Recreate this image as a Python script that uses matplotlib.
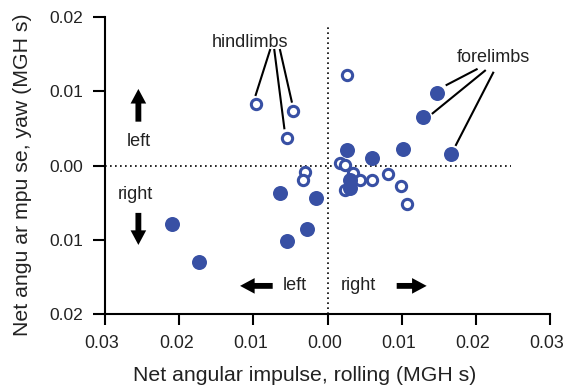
import matplotlib
matplotlib.use("Agg")
import matplotlib.pyplot as plt
import matplotlib.transforms as mtransforms

plt.rcParams['font.family'] = ['Liberation Sans', 'DejaVu Sans']

BLUE = '#3850a4'

# Filled markers (forelimbs / others)
filled_x = [-0.0210, -0.0173, -0.0064, -0.0055, -0.0028, -0.0015, 0.0026, 0.0031, 0.0031, 0.0060, 0.0102, 0.0148, 0.0129, 0.0166]
filled_y = [-0.0079, -0.0130, -0.0037, -0.0101, -0.0085, -0.0044, 0.0021, -0.0019, -0.0030, 0.0010, 0.0023, 0.0098, 0.0066, 0.0016]

# Open markers (hindlimbs / others)
open_x = [-0.0096, -0.0047, -0.0055, -0.0030, -0.0033, 0.0026, 0.0017, 0.0024, 0.0034, 0.0044, 0.0060, 0.0082, 0.0099, 0.0107, 0.0024]
open_y = [0.0083, 0.0074, 0.0037, -0.0008, -0.0019, 0.0122, 0.0004, 0.0001, -0.0010, -0.0020, -0.0020, -0.0011, -0.0027, -0.0052, -0.0033]

xticks = [-0.03, -0.02, -0.01, 0.0, 0.01, 0.02, 0.03]
xticklabels = ['0.03', '0.02', '0.01', '0.00', '0.01', '0.02', '0.03']
yticks = [-0.02, -0.01, 0.0, 0.01, 0.02]
yticklabels = ['0.02', '0.01', '0.00', '0.01', '0.02']

fig = plt.figure(figsize=(5.65, 3.86), dpi=100)
ax = fig.add_axes([105/565, 1-314/386, (550-105)/565, (314-17.3)/386])
ax.set_xlim(-0.03, 0.03)
ax.set_ylim(-0.02, 0.02)

# reference lines
ax.plot([-0.03, 0.0248], [0, 0], color='black', lw=1.2, ls=(0, (1, 2)), zorder=1)
ax.plot([0, 0], [-0.02, 0.019], color='black', lw=1.2, ls=(0, (1, 2)), zorder=1)

ax.plot(open_x, open_y, 'o', ms=7.4, mfc='white', mec=BLUE, mew=2.2, ls='none', zorder=3)
ax.plot(filled_x, filled_y, 'o', ms=10.8, mfc=BLUE, mec=BLUE, mew=0, ls='none', zorder=4)

for s in ['top', 'right']:
    ax.spines[s].set_visible(False)
for s in ['left', 'bottom']:
    ax.spines[s].set_linewidth(1.5)

ax.set_xticks(xticks)
ax.set_xticklabels(xticklabels)
ax.set_yticks(yticks)
ax.set_yticklabels(yticklabels)
ax.tick_params(axis='x', direction='out', length=8, width=1.5, labelsize=12.8, pad=7, colors='black')
ax.tick_params(axis='y', direction='out', length=8.5, width=1.5, labelsize=12.5, pad=7.5, colors='black')
shift = mtransforms.ScaledTranslation(-3/100, 0, fig.dpi_scale_trans)
for lab in ax.get_xticklabels():
    lab.set_transform(lab.get_transform() + shift)
for lab in ax.get_xticklabels() + ax.get_yticklabels():
    lab.set_color('#222222')

ax.set_xlabel('Net angular impulse, rolling (MGH s)', fontsize=15.3, color='#222222', labelpad=10.5)
ax.set_ylabel('Net angu ar mpu se, yaw (MGH s)', fontsize=15.3, color='#222222', labelpad=12)
ax.xaxis.label.set_x((305 - 105) / 445)
ax.yaxis.label.set_y(1 - (175 - 17.3) / 296.7)

tc = '#222222'
fs = 13
# hindlimbs annotation
ax.text(-0.0104, 0.01667, 'hindlimbs', ha='center', va='center', fontsize=fs, color=tc)
for (x0, y0, x1, y1) in [(-0.00775, 0.01559, -0.00968, 0.00953),
                         (-0.00717, 0.01559, -0.00582, 0.00504),
                         (-0.00640, 0.01559, -0.00482, 0.00863)]:
    ax.plot([x0, x1], [y0, y1], color='black', lw=1.5, zorder=2)

# forelimbs annotation
ax.text(0.0223, 0.01452, 'forelimbs', ha='center', va='center', fontsize=fs, color=tc)
for (x0, y0, x1, y1) in [(0.02011, 0.01299, 0.01606, 0.01088),
                         (0.02123, 0.01280, 0.01418, 0.00706),
                         (0.02234, 0.01253, 0.01732, 0.00279)]:
    ax.plot([x0, x1], [y0, y1], color='black', lw=1.5, zorder=2)

arrow_style = 'simple,head_length=0.7,head_width=0.75,tail_width=0.28'

def arrow(x0, y0, x1, y1):
    ax.annotate('', xy=(x1, y1), xytext=(x0, y0),
                arrowprops=dict(arrowstyle=arrow_style, fc='black', ec='black', lw=0,
                                mutation_scale=15, shrinkA=0, shrinkB=0))

# vertical arrows
arrow(-0.0255, 0.00593, -0.0255, 0.01034)
ax.text(-0.0255, 0.00323, 'left', ha='center', va='center', fontsize=fs, color=tc)
ax.text(-0.0259, -0.00395, 'right', ha='center', va='center', fontsize=fs, color=tc)
arrow(-0.0255, -0.00637, -0.0255, -0.01069)

# horizontal arrows
arrow(-0.00739, -0.01621, -0.01179, -0.01621)
ax.text(-0.00438, -0.01621, 'left', ha='center', va='center', fontsize=fs, color=tc)
ax.text(0.00415, -0.01621, 'right', ha='center', va='center', fontsize=fs, color=tc)
arrow(0.00933, -0.01621, 0.01337, -0.01621)

fig.savefig('out.png', dpi=100)
